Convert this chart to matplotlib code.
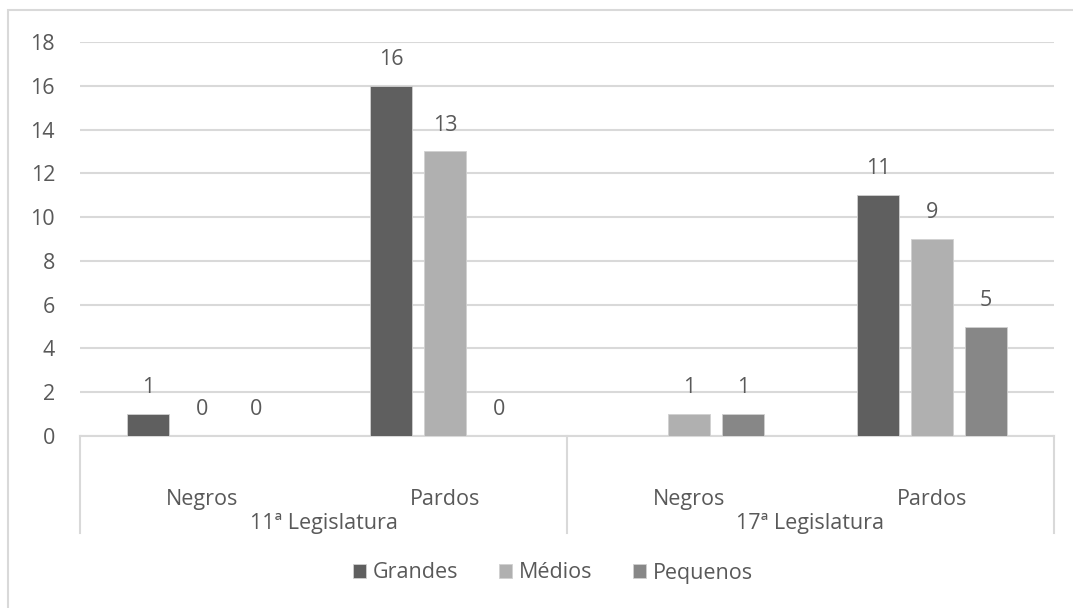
import numpy as np
import matplotlib
matplotlib.use('Agg')
from matplotlib import pyplot as plt
from matplotlib.patches import Rectangle

categories = ['Negros', 'Pardos', 'Negros', 'Pardos']
groups = ['11ª Legislatura', '17ª Legislatura']
series_names = ['Grandes', 'Médios', 'Pequenos']
# no Grandes entry for Negros in the 17ª Legislatura
grandes = [1, 16, np.nan, 11]
medios = [0, 13, 1, 9]
pequenos = [0, 0, 1, 5]
y_ticks = list(range(0, 20, 2))

colors = ['#5f5f5f', '#b0b0b0', '#878787']
text_color = '#595959'
grid_color = '#d9d9d9'
fs = 15.5

plt.rcParams['font.family'] = ['Open Sans', 'DejaVu Sans']

fig = plt.figure(figsize=(10.73, 6.08), dpi=100)
axes = fig.add_axes([80 / 1073, 1 - 436 / 608, (1054 - 80) / 1073, 394 / 608])

# chart border (right and bottom fall outside the canvas)
fig.patches.append(Rectangle((8 / 1073, -0.05), 1.2, 1 - 10 / 608 + 0.05,
                             transform=fig.transFigure, fill=False,
                             edgecolor=grid_color, linewidth=1.5))

x = np.arange(len(categories))
width = 0.174
offset = 0.2215
for k, (name, values) in enumerate(zip(series_names, [grandes, medios, pequenos])):
    pos = x + (k - 1) * offset
    axes.bar(pos, values, width=width, color=colors[k], edgecolor='#d0d0d0',
             linewidth=0.6, label=name, zorder=3)
    for xi, v in zip(pos, values):
        if np.isnan(v):
            continue
        axes.annotate(str(int(v)), (xi, v), xytext=(0, 19), textcoords='offset points',
                      ha='center', va='center', fontsize=fs, color=text_color)

axes.set_xlim(-0.5, 3.5)
axes.set_ylim(0, 18)
axes.set_yticks(y_ticks)
axes.tick_params(axis='y', length=0, pad=18, labelsize=fs, labelcolor=text_color)
axes.set_xticks([])
axes.grid(axis='y', color=grid_color, linewidth=1.5, zorder=0)
for side in ['top', 'right', 'left']:
    axes.spines[side].set_visible(False)
axes.spines['bottom'].set_color(grid_color)
axes.spines['bottom'].set_linewidth(1.5)

# two-level category axis
for xv in [-0.5, 1.5, 3.5]:
    axes.plot([xv, xv], [0, -0.246], transform=axes.get_xaxis_transform(),
              color=grid_color, linewidth=1.5, clip_on=False)
for xi, cat in zip(x, categories):
    axes.text(xi, -0.160, cat, transform=axes.get_xaxis_transform(),
              ha='center', va='center', fontsize=fs, color=text_color)
for gi, grp in enumerate(groups):
    axes.text(0.5 + 2 * gi, -0.222, grp, transform=axes.get_xaxis_transform(),
              ha='center', va='center', fontsize=fs, color=text_color)

fig.legend(loc='center', bbox_to_anchor=(553 / 1073, 1 - 573 / 608), ncol=3,
           frameon=False, fontsize=fs, labelcolor=text_color, handlelength=0.6,
           handleheight=0.6, handletextpad=0.3, columnspacing=1.9)

fig.savefig('out.png', dpi=100)
